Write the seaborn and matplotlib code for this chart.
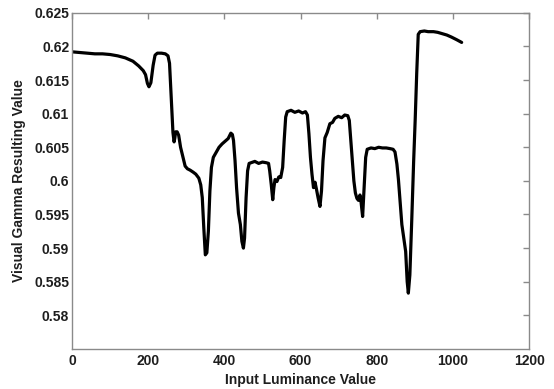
import matplotlib
matplotlib.use("Agg")
import matplotlib.pyplot as plt
import seaborn as sns
import pandas as pd

# Input luminance samples and the measured visual gamma at each
luminance = [
    0, 20, 40, 60, 80, 100, 120, 140, 160, 175, 187, 193, 198, 202, 207, 213,
    218, 224, 235, 245, 252, 256, 259, 262, 265, 268, 270, 272, 276, 280, 285,
    291, 297, 303, 310, 318, 325, 333, 338, 342, 346, 350, 354, 358, 362, 366,
    371, 378, 386, 394, 402, 410, 417, 421, 424, 428, 432, 437, 442, 446, 450,
    453, 457, 461, 465, 470, 480, 490, 500, 510, 516, 519, 523, 527, 530, 533,
    538, 543, 548, 553, 557, 561, 565, 575, 585, 595, 605, 613, 618, 622, 626,
    630, 634, 638, 642, 646, 651, 655, 659, 664, 670, 677, 684, 690, 699, 708,
    716, 724, 728, 732, 736, 740, 744, 748, 752, 756, 759, 763, 767, 771, 775,
    785, 795, 805, 815, 825, 835, 843, 848, 853, 857, 862, 866, 871, 876, 880,
    883, 887, 892, 897, 901, 905, 909, 914, 925, 935, 949, 960, 972, 984, 996,
    1010, 1023,
]
gamma = [
    0.6192, 0.6191, 0.6190, 0.6189, 0.6189, 0.6188, 0.6186, 0.6183, 0.6178,
    0.6171, 0.6164, 0.6158, 0.6145, 0.6140, 0.6146, 0.6172, 0.6187, 0.6190,
    0.6190, 0.6189, 0.6186, 0.6175, 0.6140, 0.6105, 0.6072, 0.6058, 0.6064,
    0.6073, 0.6073, 0.6068, 0.6050, 0.6036, 0.6022, 0.6018, 0.6016, 0.6013,
    0.6010, 0.6004, 0.5994, 0.5975, 0.5930, 0.5890, 0.5893, 0.5925, 0.5985,
    0.6020, 0.6035, 0.6042, 0.6050, 0.6055, 0.6059, 0.6063, 0.6071, 0.6069,
    0.6060, 0.6030, 0.5990, 0.5952, 0.5935, 0.5910, 0.5900, 0.5915, 0.5975,
    0.6015, 0.6026, 0.6027, 0.6029, 0.6026, 0.6028, 0.6027, 0.6026, 0.6015,
    0.5995, 0.5972, 0.5990, 0.6002, 0.5999, 0.6006, 0.6005, 0.6020, 0.6060,
    0.6095, 0.6103, 0.6105, 0.6102, 0.6104, 0.6101, 0.6103, 0.6098, 0.6070,
    0.6035, 0.6010, 0.5990, 0.5998, 0.5987, 0.5975, 0.5962, 0.5985, 0.6030,
    0.6064, 0.6072, 0.6085, 0.6087, 0.6093, 0.6096, 0.6094, 0.6098, 0.6097,
    0.6090, 0.6060, 0.6030, 0.6000, 0.5982, 0.5974, 0.5971, 0.5979, 0.5968,
    0.5947, 0.5990, 0.6035, 0.6047, 0.6049, 0.6048, 0.6050, 0.6049, 0.6049,
    0.6048, 0.6047, 0.6043, 0.6025, 0.6002, 0.5965, 0.5935, 0.5915, 0.5895,
    0.5850, 0.5833, 0.5860, 0.5942, 0.6030, 0.6091, 0.6160, 0.6218, 0.6222,
    0.6223, 0.6222, 0.6222, 0.6221, 0.6219, 0.6217, 0.6214, 0.6210, 0.6206,
]

x_ticks = [0, 200, 400, 600, 800, 1000, 1200]
y_ticks = [0.58, 0.585, 0.59, 0.595, 0.6, 0.605, 0.61, 0.615, 0.62, 0.625]
y_tick_labels = ["0.58", "0.585", "0.59", "0.595", "0.6", "0.605", "0.61",
                 "0.615", "0.62", "0.625"]

sns.set_style("white")
plt.rcParams["font.family"] = ["Liberation Sans", "DejaVu Sans"]

df = pd.DataFrame({"luminance": luminance, "gamma": gamma})

fig = plt.figure(figsize=(5.54, 3.89), dpi=100)
ax = fig.add_axes([0.130, 0.103, 0.825, 0.864])

sns.lineplot(data=df, x="luminance", y="gamma", ax=ax, color="black",
             linewidth=2.3, estimator=None, sort=False)

ax.set_xlim(0, 1200)
ax.set_ylim(0.575, 0.625)
ax.set_xticks(x_ticks)
ax.set_xticklabels([str(t) for t in x_ticks])
ax.set_yticks(y_ticks)
ax.set_yticklabels(y_tick_labels)

spine_color = "#8a8a8a"
text_color = "#1e1e1e"
for s in ax.spines.values():
    s.set_visible(True)
    s.set_color(spine_color)
    s.set_linewidth(1.0)

ax.tick_params(axis="both", which="both", direction="in", length=4,
               width=1.0, color=spine_color, top=True, right=True,
               labelsize=10, labelcolor=text_color)
ax.tick_params(axis="x", pad=4)
ax.tick_params(axis="y", pad=2)
for lbl in ax.get_xticklabels() + ax.get_yticklabels():
    lbl.set_fontweight("bold")

ax.set_xlabel("Input Luminance Value", fontsize=10, fontweight="bold",
              color=text_color, labelpad=3)
ax.set_ylabel("Visual Gamma Resulting Value", fontsize=10, fontweight="bold",
              color=text_color, labelpad=6)

fig.savefig("out.png", dpi=100)
